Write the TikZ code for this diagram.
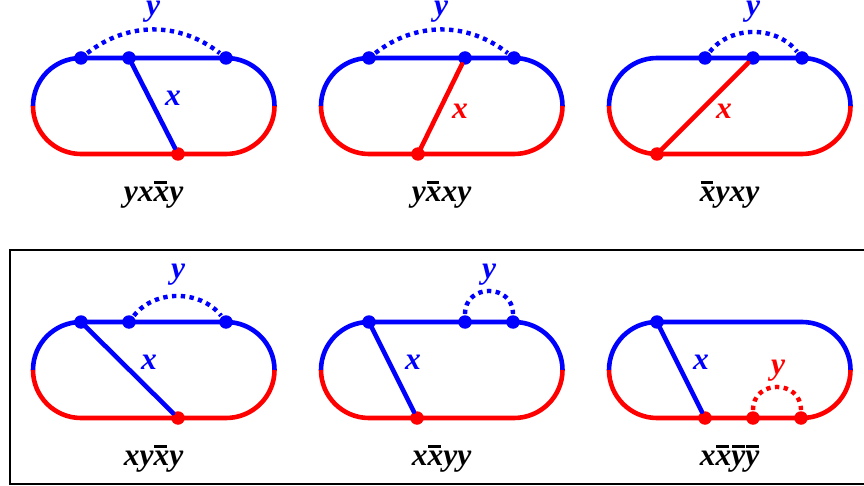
\documentclass[tikz,border=0pt]{standalone}
\usepackage{fontspec}
\setmainfont{Liberation Serif}
\definecolor{myblue}{RGB}{0,0,255}
\definecolor{myred}{RGB}{255,0,0}
\newcommand{\barred}[1]{\leavevmode\setbox0=\hbox{#1}\rlap{\raisebox{0.58em}{\hspace{0.03em}\rule{0.40em}{0.07em}}}\box0}
\tikzset{
  x=1pt,y=-1pt,
  arcline/.style={line width=4.6pt},
  chord/.style={line width=4.6pt,line cap=round},
  dotted arc/.style={line width=4.4pt,dash pattern=on 4.4pt off 4.4pt,shorten >=1pt,shorten <=1pt},
  dotb/.style={circle,fill=myblue,inner sep=0pt,minimum size=13.5pt},
  dotr/.style={circle,fill=myred,inner sep=0pt,minimum size=13.5pt},
  lab/.style={font=\fontsize{31.5}{32}\selectfont\bfseries\itshape,inner sep=0pt},
  captext/.style={font=\fontsize{31.5}{32}\selectfont\bfseries\itshape,text=black,inner sep=0pt},
  frame/.style={draw=black,line width=2.2pt}
}
\newcommand{\track}[2]{%
  \begin{scope}[shift={(#1,#2)}]
    \draw[arcline,myblue] (33,106) arc[start angle=180,end angle=90,x radius=48,y radius=-48] -- (226,58) arc[start angle=90,end angle=0,x radius=48.5,y radius=-48];
    \draw[arcline,myred] (33,106) arc[start angle=180,end angle=270,x radius=48,y radius=-48] -- (226,154) arc[start angle=270,end angle=360,x radius=48.5,y radius=-48];
  \end{scope}}
\begin{document}
\begin{tikzpicture}
\useasboundingbox (0,0) rectangle (864,486);
\draw[frame] (864,250) -- (10,250) -- (10,484) -- (864,484);
\track{0}{0}\track{288}{0}\track{576}{0}
\track{0}{264}\track{288}{264}\track{576}{264}
% row 1 panel 1
\node[dotb] (a1) at (81,58) {}; \node[dotb] (a2) at (129,58) {}; \node[dotb] (a3) at (226,58) {}; \node[dotr] (a4) at (178,154) {};
\draw[chord,myblue] (a2) -- (a4);
\draw[dotted arc,myblue] (a1) to[bend left=38] (a3);
\node[lab,text=myblue] at (173,98) {x};
\node[lab,text=myblue] at (153,12) {y};
\node[captext] at (153.5,195) {yx\barred{x}y};
% row 1 panel 2
\node[dotb] (b1) at (369,58) {}; \node[dotb] (b2) at (465,58) {}; \node[dotb] (b3) at (514,58) {}; \node[dotr] (b4) at (418,154) {};
\draw[chord,myred] (b2) -- (b4);
\draw[dotted arc,myblue] (b1) to[bend left=38] (b3);
\node[lab,text=myred] at (460,111) {x};
\node[lab,text=myblue] at (441,12) {y};
\node[captext] at (441.5,195) {y\barred{x}xy};
% row 1 panel 3
\node[dotb] (c1) at (705,58) {}; \node[dotb] (c2) at (753,58) {}; \node[dotb] (c3) at (802,58) {}; \node[dotr] (c4) at (657,154) {};
\draw[chord,myred] (c2) -- (c4);
\draw[dotted arc,myblue] (c1) to[bend left=52] (c3);
\node[lab,text=myred] at (724,111) {x};
\node[lab,text=myblue] at (753,12) {y};
\node[captext] at (729.5,195) {\barred{x}yxy};
% row 2 panel 1
\node[dotb] (d1) at (81,322) {}; \node[dotb] (d2) at (129,322) {}; \node[dotb] (d3) at (226,322) {}; \node[dotr] (d4) at (178,418) {};
\draw[chord,myblue] (d1) -- (d4);
\draw[dotted arc,myblue] (d2) to[bend left=52] (d3);
\node[lab,text=myblue] at (149,362) {x};
\node[lab,text=myblue] at (178,275) {y};
\node[captext] at (153.5,459) {xy\barred{x}y};
% row 2 panel 2
\node[dotb] (e1) at (369,322) {}; \node[dotb] (e2) at (465,322) {}; \node[dotb] (e3) at (513,322) {}; \node[dotr] (e4) at (417,418) {};
\draw[chord,myblue] (e1) -- (e4);
\draw[dotted arc,myblue] (e2.north) to[out=90,in=90,looseness=1.7] (e3.north);
\node[lab,text=myblue] at (413,362) {x};
\node[lab,text=myblue] at (489,275) {y};
\node[captext] at (441.5,459) {x\barred{x}yy};
% row 2 panel 3
\node[dotb] (f1) at (657,322) {}; \node[dotr] (f2) at (705,418) {}; \node[dotr] (f3) at (753,418) {}; \node[dotr] (f4) at (801,418) {};
\draw[chord,myblue] (f1) -- (f2);
\draw[dotted arc,myred] (f3.north) to[out=90,in=90,looseness=1.7] (f4.north);
\node[lab,text=myblue] at (701,362) {x};
\node[lab,text=myred] at (778,371) {y};
\node[captext] at (729.5,459) {x\barred{x}\barred{y}\barred{y}};
\end{tikzpicture}
\end{document}
